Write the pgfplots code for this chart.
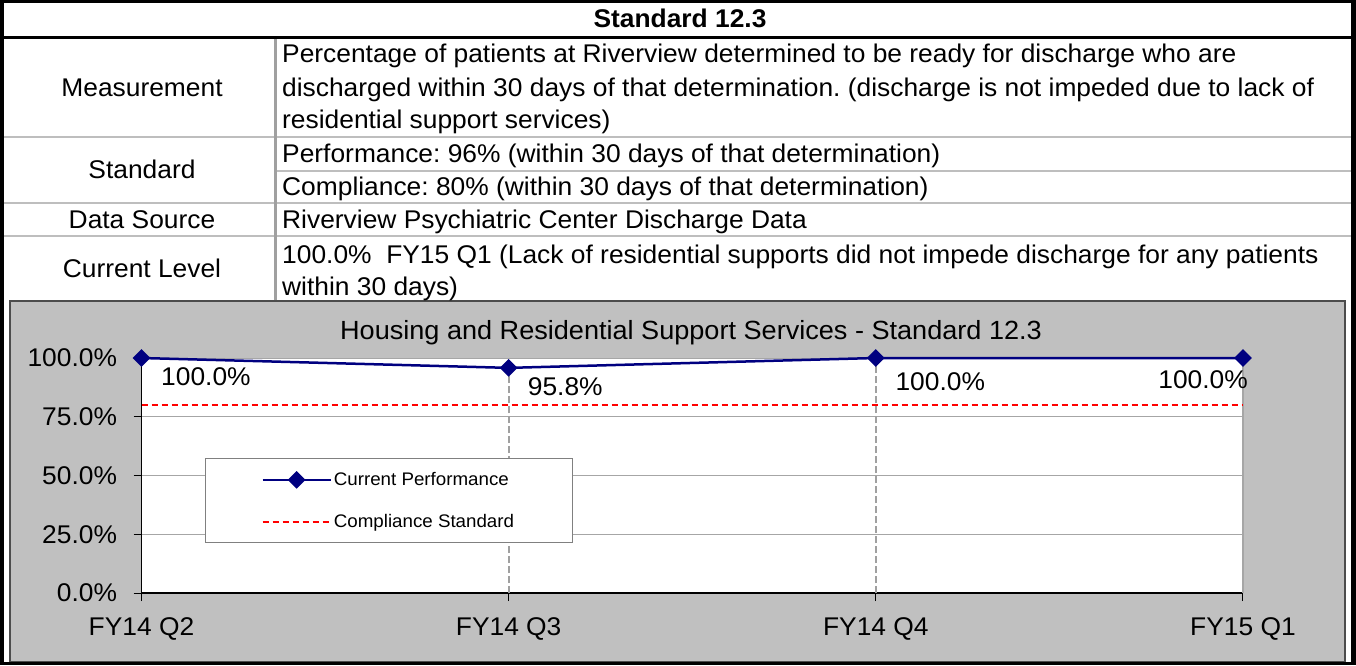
\documentclass[border=0pt]{standalone}
\usepackage{pgfplots}
\pgfplotsset{compat=1.18}
\usepackage{fontspec}
\setmainfont[FakeStretch=1.03]{Liberation Sans}
\definecolor{chartgray}{HTML}{C0C0C0}
\definecolor{sepgray}{HTML}{BEBEBE}
\definecolor{vgray}{HTML}{A0A0A0}
\definecolor{gridgray}{HTML}{A6A6A6}
\definecolor{navy}{HTML}{000080}
\newcommand{\tf}{\fontsize{25.6}{30}\selectfont}
\frenchspacing
\begin{document}
\begin{tikzpicture}
\useasboundingbox (0,0) rectangle (1356pt,665pt);
\begin{scope}[x=1pt,y=-1pt,yshift=665pt]
\fill[white] (0,0) rectangle (1356,665);
\fill[chartgray] (10,301) rectangle (1345,662);
\draw[black!70, line width=1.2pt] (10,301) rectangle (1345,662);
\draw[sepgray, line width=2.5pt] (0,137) -- (1356,137);
\draw[sepgray, line width=2.5pt] (277,171) -- (1356,171);
\draw[sepgray, line width=2.5pt] (0,203) -- (1356,203);
\draw[sepgray, line width=2.5pt] (0,236) -- (1356,236);
\draw[vgray, line width=3pt] (275,38) -- (275,300);
\draw[black, line width=3pt] (0,38) -- (1356,38);
\draw[black, line width=3.5pt] (1.75,1.75) -- (1353,1.75);
\draw[black, line width=3.5pt] (1.75,0) -- (1.75,665);
\draw[black, line width=5pt] (1353.5,0) -- (1353.5,665);
\draw[black, line width=3.5pt] (0,663.25) -- (1356,663.25);
% header
\node[font=\tf\bfseries, anchor=base, inner sep=0pt] at (680,28) {Standard 12.3};
% left labels
\node[font=\tf, anchor=base, inner sep=0pt] at (142,97) {Measurement};
\node[font=\tf, anchor=base, inner sep=0pt] at (142,178.5) {Standard};
\node[font=\tf, anchor=base, inner sep=0pt] at (142,228.5) {Data Source};
\node[font=\tf, anchor=base, inner sep=0pt] at (142,277.5) {Current Level};
% right column
\node[font=\tf, anchor=base west, inner sep=0pt] at (282,62.5) {Percentage of patients at Riverview determined to be ready for discharge who are};
\node[font=\tf, anchor=base west, inner sep=0pt] at (282,96.5) {discharged within 30 days of that determination. (discharge is not impeded due to lack of};
\node[font=\tf, anchor=base west, inner sep=0pt] at (282,128.5) {residential support services)};
\node[font=\tf, anchor=base west, inner sep=0pt] at (282,163) {Performance: 96\% (within 30 days of that determination)};
\node[font=\tf, anchor=base west, inner sep=0pt] at (282,196) {Compliance: 80\% (within 30 days of that determination)};
\node[font=\tf, anchor=base west, inner sep=0pt] at (282,228.5) {Riverview Psychiatric Center Discharge Data};
\node[font=\tf, anchor=base west, inner sep=0pt] at (282,263) {100.0\%\ \ FY15 Q1 (Lack of residential supports did not impede discharge for any patients};
\node[font=\tf, anchor=base west, inner sep=0pt] at (282,295) {within 30 days)};
% chart title
\node[font=\fontsize{26.3}{30}\selectfont, anchor=base, inner sep=0pt] at (691,339) {Housing and Residential Support Services - Standard 12.3};
\end{scope}

\begin{axis}[
  at={(141.5pt,72pt)}, anchor=south west,
  scale only axis, width=1101.5pt, height=235pt,
  xmin=0, xmax=3, ymin=0, ymax=100,
  axis background/.style={fill=white},
  axis lines=left, axis line style={-, black, line width=1.2pt},
  xtick={0,1,2,3}, xticklabels={FY14 Q2,FY14 Q3,FY14 Q4,FY15 Q1},
  ytick={0,25,50,75,100}, yticklabels={0.0\%,25.0\%,50.0\%,75.0\%,100.0\%},
  tick align=outside, major tick length=8pt,
  tick style={black, line width=1pt},
  tick label style={font=\tf},
  yticklabel style={xshift=-13pt},
  xticklabel style={yshift=-13.5pt},
  ymajorgrids, grid style={gridgray, line width=1pt},
  clip=false,
  legend style={at={(0.0576,0.574)}, anchor=north west, draw=gray, fill=white,
    font=\fontsize{18.2}{21}\selectfont, inner xsep=56pt, inner ysep=12pt,
    row sep=23pt, line width=0.8pt},
  legend cell align=left,
  legend image code/.code={\draw[mark repeat=2,mark phase=2,#1] plot coordinates {(0pt,0pt) (34pt,0pt) (68pt,0pt)};},
]
\addplot[vgray, line width=2pt, dash pattern=on 7pt off 3pt, ycomb, no marks, forget plot] coordinates {(1,95.8) (2,100)};
\addplot[gridgray, line width=1.2pt, no marks, forget plot] coordinates {(3,0) (3,100)};
\addplot[navy, line width=2.5pt, mark=square*, mark size=5pt, mark options={rotate=45, solid, fill=navy}]
  coordinates {(0,100) (1,95.8) (2,100) (3,100)};
\addlegendentry{Current Performance}
\addplot[red, line width=2pt, dash pattern=on 6pt off 4pt, no marks]
  coordinates {(0,80) (3,80)};
\addlegendentry{Compliance Standard}
\node[font=\tf, anchor=base west, inner sep=0pt, xshift=19.5pt, yshift=-27pt] at (axis cs:0,100) {100.0\%};
\node[font=\tf, anchor=base west, inner sep=0pt, xshift=19pt, yshift=-28pt] at (axis cs:1,95.8) {95.8\%};
\node[font=\tf, anchor=base west, inner sep=0pt, xshift=19.5pt, yshift=-32pt] at (axis cs:2,100) {100.0\%};
\node[font=\tf, anchor=base east, inner sep=0pt, xshift=5pt, yshift=-30pt] at (axis cs:3,100) {100.0\%};
\end{axis}
\end{tikzpicture}
\end{document}
